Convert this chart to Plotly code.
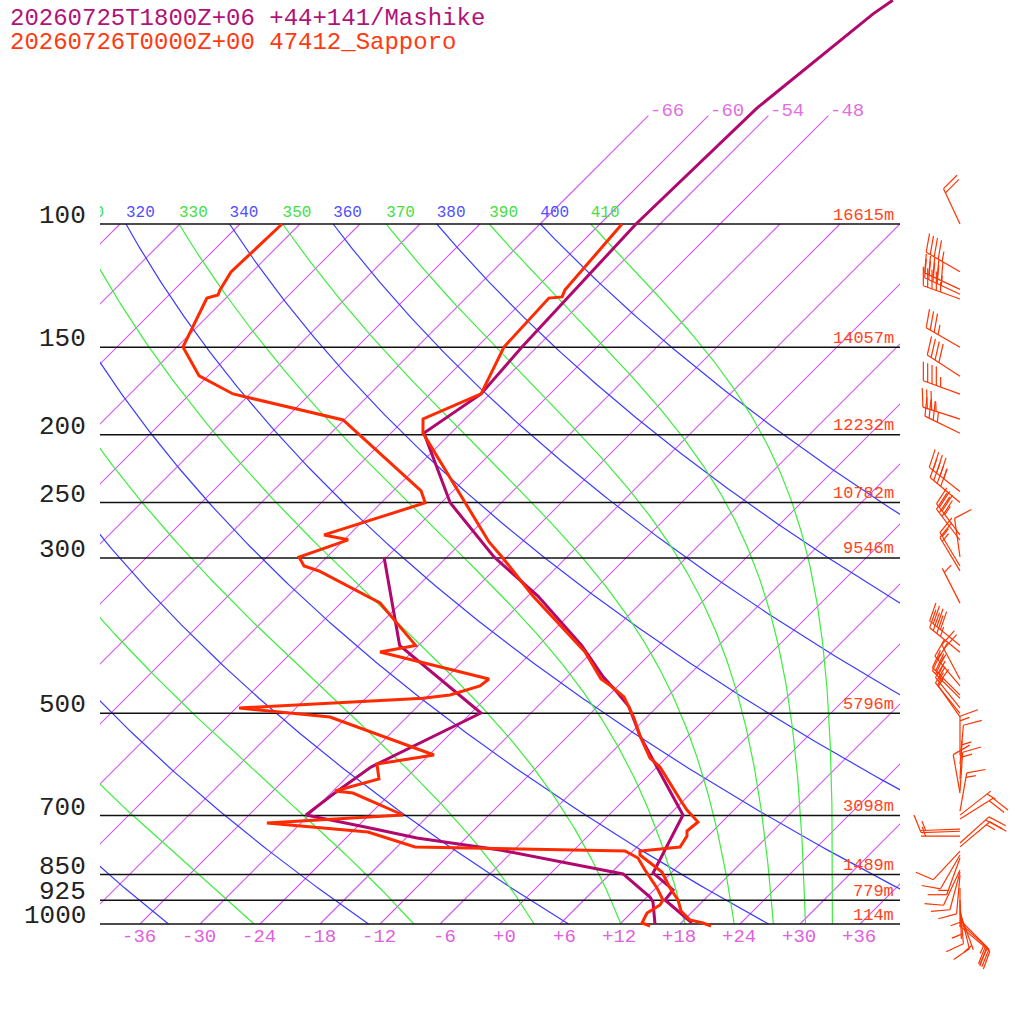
import numpy as np
import plotly.graph_objects as go

# ---- Sapporo 47412 sounding, 2026-07-26 00Z (red) ----
sap_t_p = [1006.6, 996.7, 986.9, 958.1, 924.1, 888.4, 842.9, 796.9, 786.6, 776.2,
           748.7, 736.5, 715.0, 687.3, 667.2, 596.7, 579.2, 538.8, 507.8, 473.9,
           457.1, 446.7, 408.7, 340.0, 299.0, 284.6, 280.0, 198.9, 189.9, 174.9,
           149.9, 127.6, 127.1, 124.3, 100.0]
sap_t = [21.3, 20.2, 18.6, 16.8, 15.4, 13.4, 11.0, 7.1, 6.7, 10.3,
         9.9, 9.4, 9.6, 7.3, 5.8, 0.3, -1.6, -4.8, -7.2, -10.3,
         -12.7, -14.4, -18.7, -29.5, -36.5, -39.3, -40.1, -56.8, -58.2, -54.9,
         -57.3, -57.7, -56.5, -56.9, -57.8]

sap_td_p = [1006.6, 996.7, 964.5, 939.4, 924.1, 888.4, 837.2, 804.9, 786.6, 776.2,
            739.0, 717.5, 698.7, 650.0, 645.7, 620.7, 590.9, 573.6, 506.1, 491.3,
            475.7, 470.9, 457.1, 446.7, 408.7, 399.9, 347.8, 313.1, 308.0, 299.0,
            282.6, 278.1, 250.2, 240.6, 190.5, 174.9, 164.8, 149.9, 127.6, 126.3,
            124.3, 117.1, 100.0]
sap_td = [15.2, 14.1, 13.6, 14.1, 13.9, 12.1, 9.1, 7.2, 5.2, -16.2,
          -22.4, -33.4, -20.6, -27.8, -29.8, -26.6, -28.3, -23.5, -37.7, -47.7,
          -30.3, -27.9, -25.8, -25.6, -39.2, -36.3, -44.1, -53.4, -55.4, -56.8,
          -53.6, -56.5, -49.6, -51.2, -66.1, -79.7, -84.9, -89.4, -91.9, -91.1,
          -91.4, -92.1, -91.8]

# ---- Mashike forecast, 2026-07-25 18Z +06 (purple) ----
mas_t_p = [996.7, 924.1, 894.0, 845.4, 698.7, 538.8, 489.6, 464.6, 443.5, 399.9,
           340.0, 299.0, 250.2, 198.9, 174.9, 149.9, 100.0, 68.3, 50.1, 47.9]
mas_t = [19.1, 14.1, 13.9, 10.2, 7.4, -4.8, -8.8, -11.7, -14.4, -19.7,
         -29.0, -37.3, -47.1, -56.7, -54.9, -55.5, -56.4, -55.9, -53.7, -53.1]

mas_td_p = [1000.0, 930.2, 915.0, 848.3, 784.0, 753.6, 729.1, 698.7, 654.2, 596.7,
            499.6, 406.0, 399.9, 299.0]
mas_td = [15.5, 13.1, 12.3, 7.3, -7.4, -16.9, -22.6, -30.3, -29.7, -28.6,
          -23.0, -36.9, -37.9, -48.3]

# ---- Sapporo winds (direction deg, speed kt) ----
wind_p = [1007, 997, 987, 965, 958, 939, 924, 888, 851, 843,
          837, 805, 797, 787, 776, 766, 749, 737, 732, 708,
          699, 690, 650, 646, 621, 591, 574, 506, 500, 491,
          476, 471, 457, 447, 409, 400, 348, 313, 308, 299,
          283, 278, 250, 241, 199, 190, 175, 165, 150, 128,
          126, 124, 117, 100]
wind_dir = [130, 132, 135, 160, 166, 175, 178, 180, 185, 195,
            205, 200, 210, 223, 50, 48, 270, 268, 268, 58,
            52, 10, 350, 4, 3, 5, 0, 325, 321, 321,
            315, 315, 320, 332, 309, 309, 333, 329, 329, 352,
            323, 323, 310, 308, 296, 288, 290, 303, 300, 290,
            295, 295, 300, 335]
wind_kt = [20, 20, 15, 5, 10, 10, 5, 5, 10, 10,
           10, 15, 10, 10, 15, 20, 5, 10, 5, 20,
           5, 15, 10, 15, 5, 10, 15, 10, 15, 15,
           20, 25, 25, 20, 35, 40, 5, 15, 15, 10,
           30, 35, 40, 45, 35, 35, 45, 40, 35, 45,
           45, 50, 45, 20]

levels = [1000, 925, 850, 700, 500, 300, 250, 200, 150, 100]
level_heights = ["114m", "779m", "1489m", "3098m", "5796m", "9546m",
                 "10782m", "12232m", "14057m", "16615m"]
temp_ticks = list(range(-36, 37, 6))
isotherms = list(range(-108, 37, 6))
strat_isotherms = [-66, -60, -54, -48]
theta_dry = list(range(240, 401, 20))
theta_moist = list(range(250, 411, 20))

SKEW = 70.0   # x units per decade of pressure (45 degree isotherms)
RED = "#ff2a00"
PURPLE = "#b0086e"
ISO = "#d458f4"
FONT = "Liberation Mono"


def skew_x(t, p):
    return np.asarray(t, float) + SKEW * np.log10(1000.0 / np.asarray(p, float))


def theta_e_sat(tk, p):
    # Bolton (1980) equivalent potential temperature of saturated air
    tc = tk - 273.15
    es = 6.112 * np.exp(17.67 * tc / (tc + 243.5))
    r = 622.0 * es / (p - es)
    return (tk * (1000.0 / p) ** (0.2854 * (1 - 0.28e-3 * r))
            * np.exp((3.376 / tk - 0.00254) * r * (1 + 0.81e-3 * r)))


def moist_t(the, p):
    lo = np.full_like(p, 150.0)
    hi = np.full_like(p, 315.0)
    for _ in range(60):
        mid = 0.5 * (lo + hi)
        big = theta_e_sat(mid, p) > the
        hi = np.where(big, mid, hi)
        lo = np.where(big, lo, mid)
    return 0.5 * (lo + hi) - 273.15


def barb(p, d, s):
    xs, ys = [], []
    u = (np.sin(np.radians(d)), -np.cos(np.radians(d)))
    a = np.radians(90 - d - 70)
    f = (np.cos(a), -np.sin(a))

    def seg(p0, p1):
        for dx, dy in (p0, p1):
            xs.append(46 + dx / 10.0)
            ys.append(10 ** (np.log10(p) + dy / 700.0))
        xs.append(None)
        ys.append(None)

    tip = (39 * u[0], 39 * u[1])
    seg((0, 0), tip)
    k = 0
    for _ in range(int(s // 10)):
        b = (tip[0] - k * 4.6 * u[0], tip[1] - k * 4.6 * u[1])
        seg(b, (b[0] + 19 * f[0], b[1] + 19 * f[1]))
        k += 1
    if s % 10 >= 5:
        k = max(k, 1)
        b = (tip[0] - k * 4.6 * u[0], tip[1] - k * 4.6 * u[1])
        seg(b, (b[0] + 10 * f[0], b[1] + 10 * f[1]))
    return xs, ys


fig = go.Figure()
pg = np.geomspace(1000, 100, 181)
pg_top = np.geomspace(100, 70, 11)

# isotherms (sampled along pressure so they render as ordinary paths)
for t in isotherms:
    fig.add_trace(go.Scatter(x=skew_x(np.full_like(pg, t), pg), y=pg, mode="lines",
                             opacity=1.0, line=dict(color=ISO, width=1.1)))
for t in strat_isotherms:
    fig.add_trace(go.Scatter(x=skew_x(np.full_like(pg_top, t), pg_top), y=pg_top,
                             mode="lines", opacity=1.0,
                             line=dict(color=ISO, width=1.1)))

# dry adiabats
for th in theta_dry:
    t = th * (pg / 1000.0) ** 0.2857 - 273.15
    fig.add_trace(go.Scatter(x=skew_x(t, pg), y=pg, mode="lines", opacity=1.0,
                             line=dict(color="#3c3cff", width=1.2)))
# moist adiabats
for th in theta_moist:
    t = moist_t(th, pg)
    fig.add_trace(go.Scatter(x=skew_x(t, pg), y=pg, mode="lines", opacity=1.0,
                             line=dict(color="#3cee3c", width=1.2)))

# theta labels at 100 hPa (clipped to the diagram box)
lab_x, lab_t, lab_c = [], [], []
for th in theta_dry:
    x0 = float(skew_x(th * 0.1 ** 0.2857 - 273.15, 100))
    if x0 > -45:
        lab_x.append(x0)
        lab_t.append(str(th))
        lab_c.append("#5050ff")
for th in theta_moist:
    x0 = float(skew_x(moist_t(th, np.array([100.0]))[0], 100))
    if x0 > -45:
        lab_x.append(x0)
        lab_t.append(str(th))
        lab_c.append("#44e044")
fig.add_trace(go.Scatter(x=lab_x, y=[96.6] * len(lab_x), mode="text",
                         text=lab_t, textposition="middle right",
                         textfont=dict(family=FONT, size=16, color=lab_c),
                         cliponaxis=True))

# pressure levels
for p in levels:
    fig.add_trace(go.Scatter(x=np.array([-40.0, 40.0]), y=np.array([p, p], float),
                             mode="lines", line=dict(color="#111111", width=1.5)))

# profiles
fig.add_trace(go.Scatter(x=skew_x(mas_td, mas_td_p), y=mas_td_p, mode="lines",
                         line=dict(color=PURPLE, width=3)))
fig.add_trace(go.Scatter(x=skew_x(mas_t, mas_t_p), y=mas_t_p, mode="lines",
                         line=dict(color=PURPLE, width=3)))
fig.add_trace(go.Scatter(x=skew_x(sap_td, sap_td_p), y=sap_td_p, mode="lines",
                         line=dict(color=RED, width=3)))
fig.add_trace(go.Scatter(x=skew_x(sap_t, sap_t_p), y=sap_t_p, mode="lines",
                         line=dict(color=RED, width=3)))

# wind barbs
bx, by = [], []
for p, d, s in zip(wind_p, wind_dir, wind_kt):
    xs, ys = barb(p, d, s)
    bx += xs
    by += ys
fig.add_trace(go.Scatter(x=bx, y=by, mode="lines", xaxis="x2", yaxis="y",
                         line=dict(color="#ff3300", width=1.2)))

ann = []
ann.append(dict(text="20260725T1800Z+06 +44+141/Mashike", xref="paper", yref="paper",
                x=8 / 1024, y=1 - 18 / 1024, xanchor="left", yanchor="middle",
                showarrow=False, font=dict(family=FONT, size=24, color="#b0127a")))
ann.append(dict(text="20260726T0000Z+00 47412_Sapporo", xref="paper", yref="paper",
                x=8 / 1024, y=1 - 42 / 1024, xanchor="left", yanchor="middle",
                showarrow=False, font=dict(family=FONT, size=24, color="#ff3a10")))
for p, h in zip(levels, level_heights):
    ann.append(dict(text=str(p), xref="paper", yref="y", x=88 / 1024,
                    y=float(np.log10(p)), xanchor="right", yanchor="middle",
                    yshift=8, showarrow=False,
                    font=dict(family=FONT, size=26, color="#222222")))
    ann.append(dict(text=h, xref="x", yref="y", x=39.6, y=float(np.log10(p)),
                    xanchor="right", yanchor="middle", yshift=9, showarrow=False,
                    font=dict(family=FONT, size=17, color="#ff4422")))
for t in temp_ticks:
    ann.append(dict(text=("+%d" % t) if t >= 0 else ("%d" % t),
                    xref="x", yref="y", x=t, y=3.0, xanchor="right", xshift=18,
                    yanchor="middle", yshift=-13, showarrow=False,
                    font=dict(family=FONT, size=19, color="#e060e0")))
for t in strat_isotherms:
    ann.append(dict(text="%d" % t, xref="x", yref="y",
                    x=float(skew_x(t, 70)), y=float(np.log10(70)),
                    xanchor="left", yanchor="middle", yshift=5, showarrow=False,
                    font=dict(family=FONT, size=19, color="#e070e0")))

fig.update_layout(
    width=1024, height=1024, showlegend=False,
    margin=dict(l=0, r=0, t=0, b=0),
    paper_bgcolor="white", plot_bgcolor="white",
    xaxis=dict(domain=[100 / 1024, 900 / 1024], range=[-40, 40], visible=False),
    xaxis2=dict(domain=[900 / 1024, 1], range=[40, 52.4], visible=False,
                anchor="y"),
    yaxis=dict(type="log", range=[3 + 100 / 700, 3 - 924 / 700], visible=False,
               domain=[0, 1]),
    annotations=ann,
    hovermode=False,
)

fig.write_html("out.html", config={"displayModeBar": False},
               post_script="document.body.style.margin='0';"
                           "document.body.style.overflow='hidden';")
